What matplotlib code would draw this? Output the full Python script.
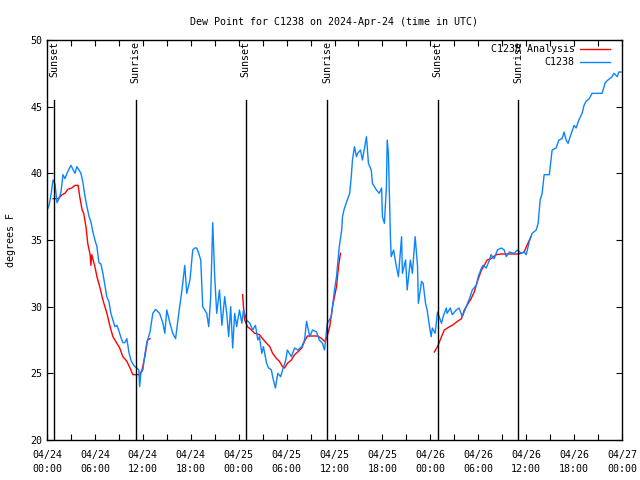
import numpy as np
import pandas as pd
import matplotlib
matplotlib.use("Agg")
from matplotlib import pyplot as plt
import matplotlib.dates as mdates

plt.rcParams['font.family'] = ['DejaVu Sans Mono']
plt.rcParams['font.size'] = 7.2

start = pd.Timestamp("2024-04-24 00:00")

# station obs: hours after start, dew point (F)
obs_hours = [0.0, 0.25, 0.5, 0.75, 1.0, 1.25, 1.5, 1.75, 2.0, 2.25, 2.5, 2.75, 3.0, 3.25, 3.5, 3.75,
             4.0, 4.25, 4.5, 4.75, 5.0, 5.25, 5.5, 5.75, 6.0, 6.25, 6.5, 6.75, 7.0, 7.25, 7.5, 7.75,
             8.0, 8.25, 8.5, 8.75, 9.0, 9.25, 9.5, 9.75, 10.0, 10.25, 10.5, 10.75, 11.0, 11.25, 11.5,
             11.6, 11.75, 12.0, 12.25, 12.5, 12.9, 13.25, 13.6, 14.1, 14.5, 14.75, 15.0, 15.4, 15.75,
             16.1, 16.5, 16.9, 17.25, 17.5, 17.9, 18.25, 18.5, 18.75, 19.0, 19.25, 19.5, 20.0, 20.25,
             20.5, 20.75, 21.0, 21.25, 21.6, 21.9, 22.25, 22.5, 22.75, 23.0, 23.25, 23.5, 23.75, 24.1,
             24.4, 24.6, 25.0, 25.4, 25.75, 26.1, 26.4, 26.6, 26.9, 27.1, 27.5, 27.75, 28.1, 28.25,
             28.6, 28.9, 29.25, 29.5, 29.9, 30.1, 30.6, 31.0, 31.4, 31.9, 32.25, 32.5, 32.9, 33.25,
             33.75, 34.1, 34.5, 34.75, 35.1, 35.6, 35.75, 36.0, 36.25, 36.4, 36.6, 36.9, 37.0, 37.25,
             37.6, 37.9, 38.1, 38.25, 38.5, 38.75, 38.9, 39.25, 39.5, 39.9, 40.0, 40.25, 40.6, 40.75,
             41.0, 41.25, 41.6, 41.9, 42.0, 42.25, 42.5, 42.6, 42.75, 43.0, 43.1, 43.4, 43.75, 44.0,
             44.4, 44.5, 44.9, 45.1, 45.5, 45.75, 46.1, 46.4, 46.5, 46.9, 47.1, 47.4, 47.6, 47.9,
             48.1, 48.25, 48.6, 48.9, 49.4, 49.6, 50.0, 50.1, 50.5, 50.75, 51.25, 51.6, 52.0, 52.5,
             52.9, 53.25, 53.75, 54.0, 54.4, 54.6, 55.0, 55.4, 55.6, 56.0, 56.4, 56.9, 57.25, 57.5,
             57.9, 58.5, 58.9, 59.4, 59.75, 60.0, 60.4, 60.75, 61.25, 61.5, 61.75, 62.0, 62.25, 62.9,
             63.25, 63.75, 64.1, 64.5, 64.75, 65.0, 65.25, 65.6, 66.0, 66.25, 66.6, 67.0, 67.25, 67.5,
             67.9, 68.25, 68.6, 69.1, 69.5, 69.9, 70.25, 70.75, 71.0, 71.4, 71.6, 71.9]
obs_dewp = [37.2, 37.6, 38.4, 39.5, 39.2, 37.8, 38.1, 38.6, 39.9, 39.6, 40.0, 40.3, 40.6, 40.3, 40.0, 40.5,
            40.25, 40.0, 39.3, 38.3, 37.5, 36.8, 36.35, 35.6, 35.0, 34.5, 33.3, 33.2, 32.5, 31.6, 30.7, 30.4,
            29.5, 29.0, 28.5, 28.6, 28.2, 27.7, 27.3, 27.3, 27.6, 26.6, 26.0, 25.7, 25.5, 25.4, 25.25,
            24.0, 25.0, 25.25, 26.4, 27.3, 28.1, 29.5, 29.8, 29.5, 28.8, 28.0, 29.75, 28.75, 28.0,
            27.6, 29.5, 31.25, 33.1, 31.0, 32.0, 34.25, 34.4, 34.4, 34.0, 33.5, 30.0, 29.5, 28.5,
            30.75, 36.3, 32.25, 29.5, 31.25, 28.6, 30.75, 29.5, 27.75, 30.0, 26.9, 29.5, 28.5, 29.75,
            28.75, 29.75, 29.0, 28.75, 28.25, 28.6, 27.5, 27.75, 26.5, 27.0, 25.75, 25.4, 25.25, 24.75,
            23.9, 25.0, 24.75, 25.25, 26.0, 26.75, 26.25, 26.9, 26.75, 27.0, 27.5, 28.9, 27.75, 28.25,
            28.1, 27.5, 27.25, 26.75, 28.75, 29.25, 30.0, 31.25, 32.25, 33.25, 34.5, 35.75, 36.75, 37.4,
            38.0, 38.5, 39.75, 41.0, 42.0, 41.25, 41.5, 41.75, 41.0, 42.4, 42.75, 40.75, 40.25, 39.25,
            39.0, 38.75, 38.5, 38.9, 36.75, 36.25, 39.0, 42.5, 41.5, 35.25, 33.75, 34.25, 33.0, 32.25,
            35.25, 32.5, 33.5, 31.25, 33.5, 32.5, 35.25, 33.0, 30.25, 31.9, 31.75, 30.25, 29.75, 28.5,
            27.75, 28.4, 28.0, 29.6, 28.75, 29.25, 29.9, 29.5, 29.9, 29.4, 29.75, 29.9, 29.25, 30.0,
            30.6, 31.25, 31.6, 32.25, 32.9, 33.1, 32.9, 33.5, 33.9, 33.6, 34.25, 34.4, 34.25, 33.75,
            34.1, 34.0, 34.25, 34.0, 34.1, 33.9, 34.9, 35.5, 35.75, 36.25, 38.0, 38.5, 39.9, 39.9,
            41.75, 41.9, 42.5, 42.6, 43.1, 42.5, 42.25, 42.9, 43.6, 43.4, 44.0, 44.5, 45.1, 45.4,
            45.6, 46.0, 46.0, 46.0, 46.0, 46.8, 47.0, 47.25, 47.5, 47.25, 47.6, 47.6]

# analysis: three 12-hour runs, NaN between them
ana_hours = [0.75, 1.4, 1.9, 2.25, 2.6, 3.1, 3.5, 3.9, 4.1, 4.4, 4.6, 4.9, 5.1, 5.4, 5.5, 5.6, 6.0,
             6.25, 6.6, 7.0, 7.5, 7.9, 8.25, 8.75, 9.1, 9.5, 10.0, 10.4, 10.75, 11.4, 11.6, 11.9,
             12.25, 12.6, 12.9, 12.95,
             24.5, 24.6, 24.75, 25.1, 25.6, 26.0, 26.6, 27.0, 27.5, 27.9, 28.25, 28.75, 29.1, 29.5,
             29.75, 30.1, 30.6, 31.0, 31.4, 31.9, 32.25, 32.6, 33.25, 33.9, 34.4, 34.75, 35.0, 35.4,
             35.75, 36.25, 36.5, 36.75, 36.8,
             48.5, 48.9, 49.4, 49.75, 50.4, 50.75, 51.4, 51.9, 52.25, 52.6, 53.1, 53.5, 53.9, 54.4,
             54.75, 55.1, 55.6, 56.25, 56.9, 57.5, 58.25, 59.1, 59.75, 60.1, 60.6]
ana_dewp = [38.1, 38.1, 38.4, 38.5, 38.8, 38.9, 39.1, 39.1, 38.25, 37.25, 37.0, 35.9, 34.75, 33.9, 33.1, 33.9, 33.0,
            32.25, 31.5, 30.5, 29.5, 28.5, 27.75, 27.25, 26.9, 26.25, 25.9, 25.4, 24.9, 24.9, 24.9, 25.25,
            26.25, 27.5, 27.6, np.nan,
            30.9, 30.0, 29.0, 28.5, 28.25, 28.0, 27.9, 27.6, 27.25, 27.0, 26.5, 26.1, 25.9, 25.5,
            25.4, 25.75, 26.0, 26.4, 26.6, 26.9, 27.4, 27.8, 27.8, 27.8, 27.6, 27.4, 27.6, 28.5,
            30.0, 31.5, 33.0, 34.0, np.nan,
            26.6, 27.0, 27.75, 28.25, 28.5, 28.6, 28.9, 29.1, 29.75, 30.1, 30.6, 31.1, 31.9, 32.75,
            33.1, 33.5, 33.6, 33.9, 33.95, 33.95, 33.95, 33.95, 34.1, 34.6, 35.25]

sun_hours = [0.9, 11.1, 24.9, 35.1, 48.9, 59.0]
sun_labels = ["Sunset", "Sunrise", "Sunset", "Sunrise", "Sunset", "Sunrise"]

obs_t = start + pd.to_timedelta(obs_hours, unit="h")
ana_t = start + pd.to_timedelta(ana_hours, unit="h")
sun_t = start + pd.to_timedelta(sun_hours, unit="h")

fig = plt.figure(figsize=(6.4, 4.8), dpi=100)
ax = fig.add_axes([47 / 640, 40 / 480, 575 / 640, 400 / 480])

ax.plot(ana_t, ana_dewp, color="#ff0000", lw=1.0)
ax.plot(obs_t, obs_dewp, color="#0a84ff", lw=1.0)

for t, lab in zip(sun_t, sun_labels):
    ax.axvline(t, ymin=0, ymax=0.85, color="k", lw=1.0)
    ax.text(t, 49.9, lab, rotation=90, ha="center", va="top", fontsize=7.2)

ax.set_xlim(start, start + pd.Timedelta(hours=72))
ax.set_ylim(20, 50)
ax.set_yticks(np.arange(20, 51, 5))
ax.xaxis.set_major_locator(mdates.HourLocator(byhour=range(0, 24, 6)))
ax.xaxis.set_minor_locator(mdates.HourLocator(byhour=range(0, 24, 3)))
ax.xaxis.set_major_formatter(mdates.DateFormatter("%m/%d\n%H:%M"))
for lbl in ax.get_xticklabels():
    lbl.set_linespacing(1.5)
ax.tick_params(which="both", direction="in", top=True, right=True, length=4, width=0.8)
ax.tick_params(axis="x", pad=7)
for s in ax.spines.values():
    s.set_linewidth(1.0)

ax.set_ylabel("degrees F", labelpad=10)
ax.set_title("Dew Point for C1238 on 2024-Apr-24 (time in UTC)", fontsize=7.2, pad=11)

# key in the gnuplot manner: label right-aligned, sample to the right
ax.text(0.918, 0.977, "C1238 Analysis", transform=ax.transAxes, ha="right", va="center")
ax.plot([0.927, 0.979], [0.977, 0.977], transform=ax.transAxes, color="#ff0000", lw=1.0)
ax.text(0.918, 0.945, "C1238", transform=ax.transAxes, ha="right", va="center")
ax.plot([0.927, 0.979], [0.945, 0.945], transform=ax.transAxes, color="#0a84ff", lw=1.0)

fig.savefig("out.png", dpi=100)
